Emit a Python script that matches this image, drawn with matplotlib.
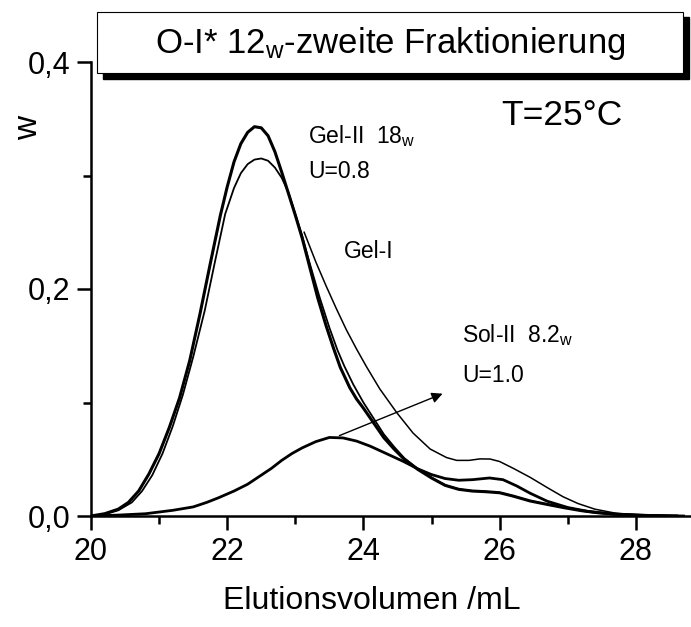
import numpy as np
import matplotlib.pyplot as plt
from matplotlib.patches import Rectangle

plt.rcParams['font.family'] = ['Liberation Sans', 'DejaVu Sans']
plt.rcParams['mathtext.fontset'] = 'custom'
plt.rcParams['mathtext.rm'] = 'Liberation Sans'
plt.rcParams['mathtext.it'] = 'Liberation Sans:italic'

# thick curve, highest peak
x_a = [20.0, 20.2, 20.4, 20.55, 20.7, 20.85, 21.0, 21.15, 21.3, 21.45, 21.6, 21.75, 21.9, 22.0,
       22.1, 22.2, 22.3, 22.4, 22.5, 22.6, 22.7, 22.8, 22.9, 23.0, 23.1, 23.2, 23.33, 23.45,
       23.56, 23.66, 23.8, 23.9, 24.0, 24.15, 24.3, 24.45, 24.6, 24.8, 25.0, 25.2, 25.4, 25.6,
       25.8, 26.0, 26.2, 26.45, 26.7, 26.95, 27.2, 27.45, 27.8, 28.2, 28.6]
y_a = [0.0, 0.002, 0.006, 0.012, 0.022, 0.037, 0.055, 0.078, 0.104, 0.137, 0.178, 0.222, 0.265, 0.290,
       0.312, 0.328, 0.338, 0.343, 0.342, 0.335, 0.321, 0.303, 0.284, 0.265, 0.245, 0.222, 0.192, 0.168,
       0.148, 0.131, 0.113, 0.103, 0.095, 0.082, 0.069, 0.059, 0.050, 0.041, 0.0335, 0.0270, 0.0235, 0.0220,
       0.0214, 0.0205, 0.0175, 0.0132, 0.0102, 0.0073, 0.0047, 0.0028, 0.0012, 0.0004, 0.0]

# thin curve, lower peak
x_b = [20.0, 20.2, 20.4, 20.6, 20.75, 20.9, 21.05, 21.2, 21.35, 21.5, 21.67, 21.82, 21.97, 22.1,
       22.2, 22.3, 22.4, 22.5, 22.6, 22.7, 22.8, 22.9, 23.0, 23.1, 23.2, 23.35, 23.5, 23.62, 23.72,
       23.85, 24.0, 24.15, 24.3, 24.45, 24.6, 24.8, 25.0, 25.2, 25.4, 25.6, 25.8, 26.0, 26.2, 26.45,
       26.7, 26.95, 27.2, 27.45, 27.8, 28.2, 28.6]
y_b = [0.0, 0.0015, 0.005, 0.012, 0.022, 0.036, 0.055, 0.079, 0.107, 0.140, 0.181, 0.224, 0.266, 0.289,
       0.302, 0.310, 0.314, 0.315, 0.313, 0.307, 0.298, 0.285, 0.266, 0.247, 0.225, 0.194, 0.166, 0.146,
       0.132, 0.116, 0.100, 0.086, 0.072, 0.061, 0.051, 0.0415, 0.0338, 0.0272, 0.0236, 0.0221, 0.0215,
       0.0206, 0.0176, 0.0133, 0.0103, 0.0074, 0.0048, 0.0028, 0.0012, 0.0004, 0.0]

# Gel-I
x_gel1 = [23.13, 23.3, 23.45, 23.6, 23.75, 23.9, 24.05, 24.24, 24.49, 24.73, 24.98, 25.22, 25.37,
          25.55, 25.71, 25.86, 26.0, 26.2, 26.45, 26.7, 26.93, 27.15, 27.4, 27.7, 28.1, 28.6]
y_gel1 = [0.250, 0.224, 0.203, 0.183, 0.164, 0.147, 0.131, 0.112, 0.091, 0.073, 0.059, 0.0515, 0.0490,
          0.0490, 0.0503, 0.0502, 0.0480, 0.0420, 0.0340, 0.0250, 0.0170, 0.0110, 0.0060, 0.0025, 0.0008, 0.0]

# Sol-II
x_sol2 = [20.0, 20.4, 20.8, 21.2, 21.5, 21.7, 21.87, 22.1, 22.3, 22.5, 22.65, 22.8, 22.95, 23.1,
          23.3, 23.5, 23.7, 23.9, 24.1, 24.3, 24.59, 24.8, 25.0, 25.2, 25.4, 25.6, 25.85, 26.05,
          26.25, 26.45, 26.7, 27.0, 27.3, 27.7, 28.2, 28.7]
y_sol2 = [0.0, 0.0008, 0.002, 0.005, 0.008, 0.012, 0.016, 0.022, 0.028, 0.036, 0.042, 0.049, 0.055, 0.060,
          0.0655, 0.0692, 0.0688, 0.0660, 0.0615, 0.0560, 0.0480, 0.0415, 0.0365, 0.0330, 0.0315, 0.0320,
          0.0335, 0.0320, 0.0265, 0.0200, 0.0130, 0.0075, 0.0040, 0.0015, 0.0004, 0.0]

x_ticks = [20, 22, 24, 26, 28]
y_ticks = [0.0, 0.2, 0.4]
y_tick_labels = ['0,0', '0,2', '0,4']

fig = plt.figure(figsize=(6.91, 6.27), dpi=100)
ax = fig.add_axes([91 / 691, 111 / 627, 600 / 691, 454 / 627])

ax.plot(x_sol2, y_sol2, color='k', lw=2.0)
ax.plot(x_b, y_b, color='k', lw=1.3)
ax.plot(x_a, y_a, color='k', lw=2.2)
ax.plot(x_gel1, y_gel1, color='k', lw=1.1)

ax.annotate('', xy=(25.2, 0.1087), xytext=(23.61, 0.0699),
            arrowprops=dict(arrowstyle='-|>', lw=1.0, color='k', mutation_scale=16))

ax.set_xlim(20, 28.81)
ax.set_ylim(0, 0.4)
for s in ['top', 'right']:
    ax.spines[s].set_visible(False)
for s in ['left', 'bottom']:
    ax.spines[s].set_linewidth(1.8)

ax.set_xticks(x_ticks)
ax.set_xticks([21, 23, 25, 27], minor=True)
ax.set_yticks(y_ticks)
ax.set_yticklabels(y_tick_labels)
ax.set_yticks([0.1, 0.3], minor=True)
ax.tick_params(which='major', direction='out', length=10, width=1.8, labelsize=22, pad=5)
ax.tick_params(which='minor', direction='out', length=6, width=1.8)

ax.set_xlabel('Elutionsvolumen /mL', fontsize=23, labelpad=14)
ax.xaxis.label.set_x(0.468)
ax.set_ylabel('w', fontsize=24)
ax.yaxis.set_label_coords(-0.078, 0.855)

ax.text(23.185, 0.3286, 'Gel-II  18$_\\mathregular{w}$', fontsize=16.5)
ax.text(23.185, 0.2978, 'U=0.8', fontsize=16.5)
ax.text(23.71, 0.2273, 'Gel-I', fontsize=16.5)
ax.text(25.446, 0.1533, 'Sol-II  8.2$_\\mathregular{w}$', fontsize=16.5)
ax.text(25.446, 0.118, 'U=1.0', fontsize=16.5)
ax.text(26.03, 0.3445, 'T=25\u00b0C', fontsize=25.5)

# title box with shadow
fig.patches.append(Rectangle((103 / 691, 1 - 79 / 627), 586 / 691, 62 / 627,
                             transform=fig.transFigure, facecolor='k', edgecolor='k', zorder=5))
fig.patches.append(Rectangle((97 / 691, 1 - 73 / 627), 586 / 691, 61 / 627,
                             transform=fig.transFigure, facecolor='white', edgecolor='k',
                             lw=0.8, zorder=6))
fig.text(390 / 691, 1 - 43 / 627, 'O-I* 12$_\\mathregular{w}$-zweite Fraktionierung',
         fontsize=25, ha='center', va='center', zorder=7)

fig.savefig('out.png', dpi=100)
